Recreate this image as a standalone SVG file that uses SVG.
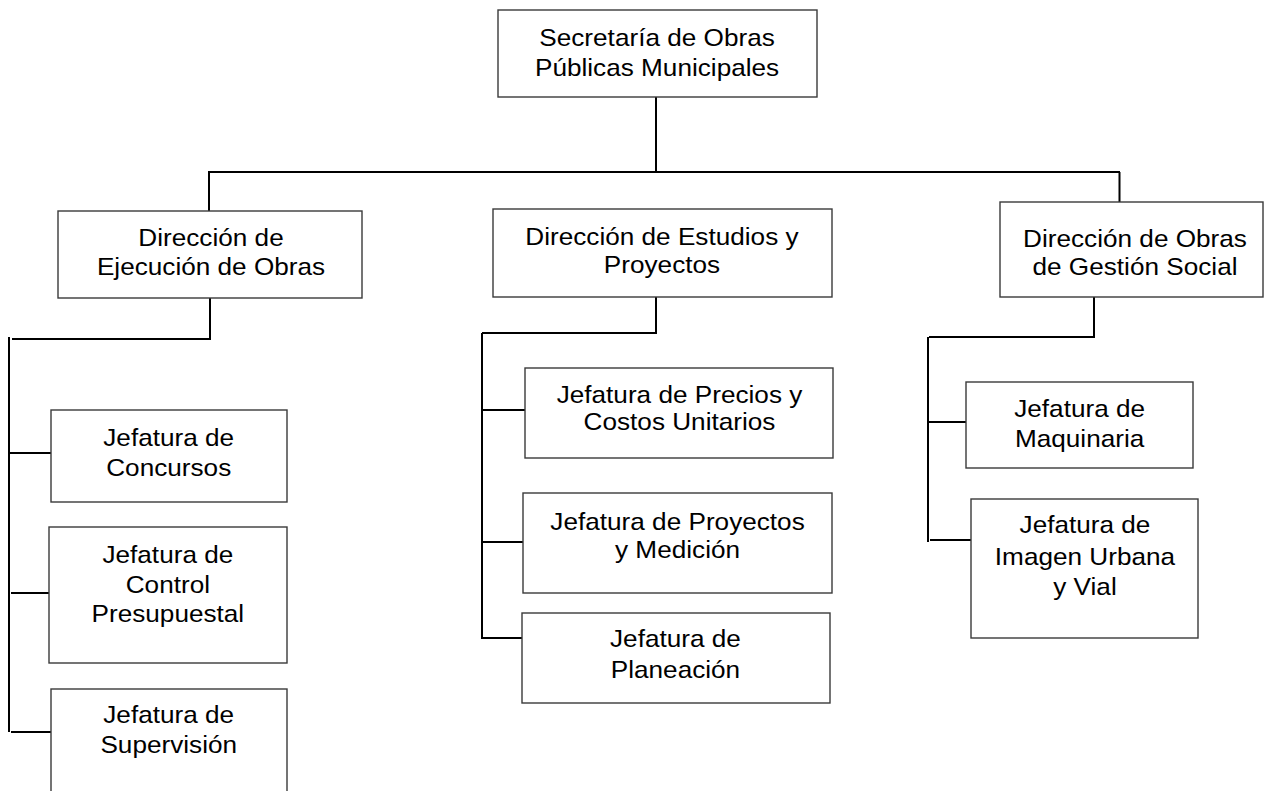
<svg xmlns="http://www.w3.org/2000/svg" width="1264" height="791" viewBox="0 0 1264 791">
<style>
.box{fill:#fff;stroke:#3a3a3a;stroke-width:1.4}
.lbl{font-family:"Liberation Sans",Arial,sans-serif;font-size:24px;fill:#000;text-anchor:middle}
.conn{stroke:#000;stroke-width:2;fill:none}
</style>
<rect width="1264" height="791" fill="#fff"/>
<g id="connectors">
<path class="conn" d="M656,97V172M208,172H1120M209,172V211M1119.5,172V202"/>
<path class="conn" d="M210,298V339H12M9,337V732M9,453H51M11,593H49M11,732H51"/>
<path class="conn" d="M656,297V333H482M482,333V639M482,410H525M482,542H523M482,638H522"/>
<path class="conn" d="M1094,297V337H929M928,337V542M928,422H966M930,540H971"/>
</g>
<g id="secretaria">
<rect class="box" x="498" y="10" width="319" height="87"/>
<g transform="scale(1.09 1)"><text class="lbl" x="602.8" y="46">Secretaría de Obras</text><text class="lbl" x="602.8" y="76">Públicas Municipales</text></g>
</g>
<g id="dir-ejecucion">
<rect class="box" x="58" y="211" width="304" height="87"/>
<g transform="scale(1.09 1)"><text class="lbl" x="193.6" y="246">Dirección de</text><text class="lbl" x="193.6" y="275">Ejecución de Obras</text></g>
</g>
<g id="dir-estudios">
<rect class="box" x="493" y="209" width="339" height="88"/>
<g transform="scale(1.09 1)"><text class="lbl" x="607.3" y="245">Dirección de Estudios y</text><text class="lbl" x="607.3" y="273">Proyectos</text></g>
</g>
<g id="dir-gestion">
<rect class="box" x="1000" y="202" width="263" height="95"/>
<g transform="scale(1.09 1)"><text class="lbl" x="1041.3" y="247">Dirección de Obras</text><text class="lbl" x="1041.3" y="275">de Gestión Social</text></g>
</g>
<g id="jef-concursos">
<rect class="box" x="51" y="410" width="236" height="92"/>
<g transform="scale(1.09 1)"><text class="lbl" x="154.8" y="446">Jefatura de</text><text class="lbl" x="154.8" y="476">Concursos</text></g>
</g>
<g id="jef-control">
<rect class="box" x="49" y="527" width="238" height="136"/>
<g transform="scale(1.09 1)"><text class="lbl" x="154" y="563">Jefatura de</text><text class="lbl" x="154" y="593">Control</text><text class="lbl" x="154" y="622">Presupuestal</text></g>
</g>
<g id="jef-supervision">
<rect class="box" x="51" y="689" width="236" height="110"/>
<g transform="scale(1.09 1)"><text class="lbl" x="154.8" y="723">Jefatura de</text><text class="lbl" x="154.8" y="753">Supervisión</text></g>
</g>
<g id="jef-precios">
<rect class="box" x="525" y="368" width="308" height="90"/>
<g transform="scale(1.09 1)"><text class="lbl" x="623.4" y="403">Jefatura de Precios y</text><text class="lbl" x="623.4" y="430">Costos Unitarios</text></g>
</g>
<g id="jef-proyectos">
<rect class="box" x="523" y="493" width="309" height="100"/>
<g transform="scale(1.09 1)"><text class="lbl" x="621.6" y="530">Jefatura de Proyectos</text><text class="lbl" x="621.6" y="558">y Medición</text></g>
</g>
<g id="jef-planeacion">
<rect class="box" x="522" y="613" width="308" height="90"/>
<g transform="scale(1.09 1)"><text class="lbl" x="619.7" y="647">Jefatura de</text><text class="lbl" x="619.7" y="678">Planeación</text></g>
</g>
<g id="jef-maquinaria">
<rect class="box" x="966" y="382" width="227" height="86"/>
<g transform="scale(1.09 1)"><text class="lbl" x="990.5" y="417">Jefatura de</text><text class="lbl" x="990.5" y="447">Maquinaria</text></g>
</g>
<g id="jef-imagen">
<rect class="box" x="971" y="499" width="227" height="139"/>
<g transform="scale(1.09 1)"><text class="lbl" x="995.4" y="533">Jefatura de</text><text class="lbl" x="995.4" y="565">Imagen Urbana</text><text class="lbl" x="995.4" y="595">y Vial</text></g>
</g>
</svg>
